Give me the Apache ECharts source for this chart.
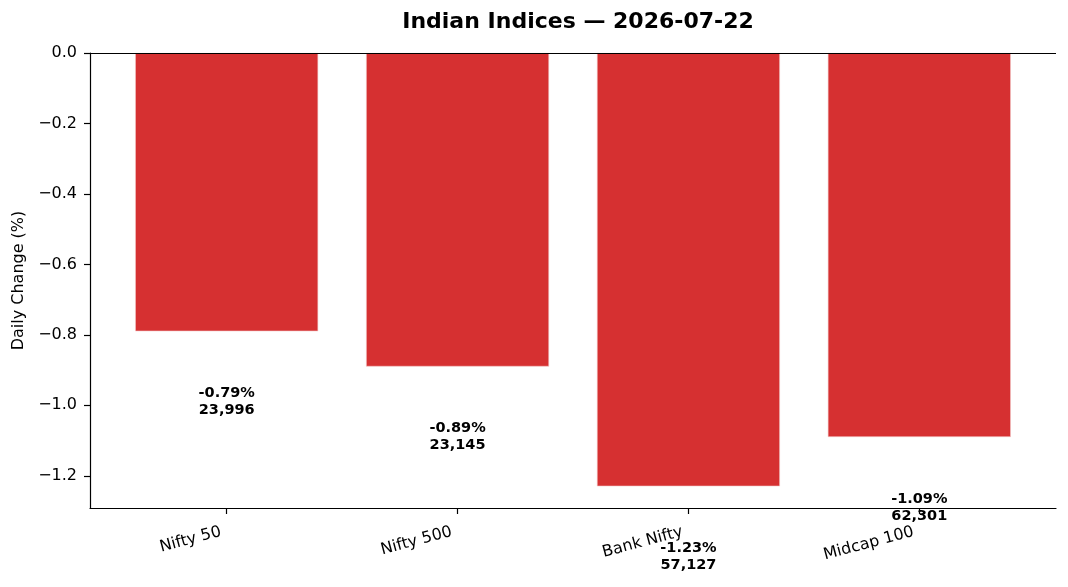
<!DOCTYPE html>
<html>
<head>
<meta charset="utf-8">
<script src="https://cdn.jsdelivr.net/npm/echarts@6/dist/echarts.min.js"></script>
<style>
  html, body { margin: 0; padding: 0; background: #fff; }
  #chart { width: 1068px; height: 587px; }
</style>
</head>
<body>
<div id="chart"></div>
<script>
  // data
  const indices = ['Nifty 50', 'Nifty 500', 'Bank Nifty', 'Midcap 100'];
  const changes = [-0.79, -0.89, -1.23, -1.09];
  const levels = [23996, 23145, 57127, 62301];
  const yTicks = [0, -0.2, -0.4, -0.6, -0.8, -1.0, -1.2];
  const labelDrop = 0.2; // text sits 0.2 below each bar end

  const font = 'DejaVu Sans';
  const chart = echarts.init(document.getElementById('chart'));

  const barData = changes.map((v, i) => [i, v]);
  const textData = changes.map((v, i) => ({
    value: [i, v - labelDrop],
    pct: v,
    lvl: levels[i]
  }));
  const yMin = Math.min(...changes) * 1.05;

  const option = {
    animation: false,
    textStyle: { fontFamily: font },
    title: {
      text: 'Indian Indices — 2026-07-22',
      left: 573,
      textAlign: 'center',
      top: 6,
      textStyle: { fontFamily: font, fontSize: 22, fontWeight: 'bold', color: '#000' }
    },
    grid: { left: 90, right: 12, top: 53, bottom: 79, outerBoundsMode: 'none' },
    xAxis: {
      type: 'value',
      min: -0.592,
      max: indices.length - 1 + 0.592,
      splitLine: { show: false },
      axisLine: { show: true, onZero: false, lineStyle: { color: '#000', width: 1.2 } },
      axisTick: {
        show: true, length: 6, lineStyle: { color: '#000', width: 1.2 },
        customValues: indices.map((_, i) => i)
      },
      axisLabel: {
        customValues: indices.map((_, i) => i),
        formatter: v => indices[Math.round(v)],
        rotate: 15,
        margin: 22,
        padding: [0, 6, 0, 0],
        color: '#000',
        fontSize: 16,
        fontFamily: font
      }
    },
    yAxis: {
      type: 'value',
      min: yMin,
      max: 0,
      name: 'Daily Change (%)',
      nameLocation: 'middle',
      nameGap: 61,
      nameTextStyle: { color: '#000', fontSize: 16, fontFamily: font },
      splitLine: { show: false },
      axisLine: { show: true, onZero: false, lineStyle: { color: '#000', width: 1.2 } },
      axisTick: {
        show: true, length: 6, lineStyle: { color: '#000', width: 1.2 },
        customValues: yTicks
      },
      axisLabel: {
        customValues: yTicks,
        formatter: v => (Math.abs(v) < 1e-9 ? '0.0' : '\u2212' + Math.abs(v).toFixed(1)),
        margin: 13,
        color: '#000',
        fontSize: 16,
        fontFamily: font
      }
    },
    series: [
      {
        type: 'bar',
        data: barData,
        barWidth: 183,
        itemStyle: { color: '#d63031', borderColor: '#f3c9c9', borderWidth: 0.6 },
        markLine: {
          silent: true,
          symbol: 'none',
          label: { show: false },
          lineStyle: { color: '#000', width: 1.2, type: 'solid' },
          data: [{ yAxis: 0 }]
        }
      },
      {
        type: 'scatter',
        data: textData,
        symbolSize: 0,
        clip: false,
        silent: true,
        z: 5,
        itemStyle: { opacity: 1 },
        label: {
          show: true,
          position: 'inside',
          color: '#000',
          textBorderWidth: 0,
          fontFamily: font,
          fontWeight: 'bold',
          fontSize: 14.5,
          lineHeight: 17,
          align: 'center',
          formatter: p => p.data.pct.toFixed(2) + '%\n' + p.data.lvl.toLocaleString('en-US')
        }
      }
    ]
  };

  chart.setOption(option);
</script>
</body>
</html>
